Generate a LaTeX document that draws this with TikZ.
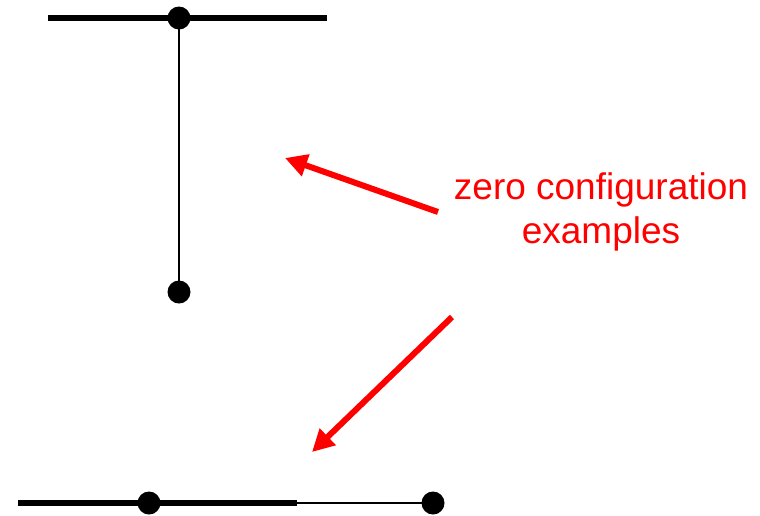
\documentclass[tikz,border=0pt]{standalone}
\usepackage{fontspec}
\setmainfont{Liberation Sans}
\usetikzlibrary{arrows.meta}
\begin{document}
\begin{tikzpicture}[x=1pt,y=-1pt,
  thickbar/.style={line width=5.5pt,black},
  thinbar/.style={line width=1.6pt,black},
  dotnode/.style={circle,fill=black,inner sep=0pt,minimum size=23pt},
  redarrow/.style={red,line width=6pt,-{Triangle[length=22pt,width=22pt]}},
  lbl/.style={text=red,font=\fontsize{37}{44}\selectfont,align=center,inner sep=0pt}]
\useasboundingbox (0,0) rectangle (760,515);
% top configuration
\coordinate (tl) at (48,18);
\coordinate (tr) at (327,18);
\node[dotnode] (t1) at (179,18) {};
\node[dotnode] (t2) at (179,292) {};
\draw[thinbar] (t1.center) -- (t2.center);
\draw[thickbar] (tl) -- (tr);
% bottom configuration
\coordinate (bl) at (18,503);
\coordinate (bm) at (297,503);
\node[dotnode] (b1) at (149,503) {};
\node[dotnode] (b2) at (433,503) {};
\draw[thinbar] (bm) -- (b2.center);
\draw[thickbar] (bl) -- (bm);
% label
\node[lbl] (lab) at (601,212) {zero configuration\\examples};
\coordinate (a1s) at (438,212);
\coordinate (a1e) at (285,158);
\coordinate (a2s) at (452,317);
\coordinate (a2e) at (312,452);
\draw[redarrow] (a1s) -- (a1e);
\draw[redarrow] (a2s) -- (a2e);
\end{tikzpicture}
\end{document}
